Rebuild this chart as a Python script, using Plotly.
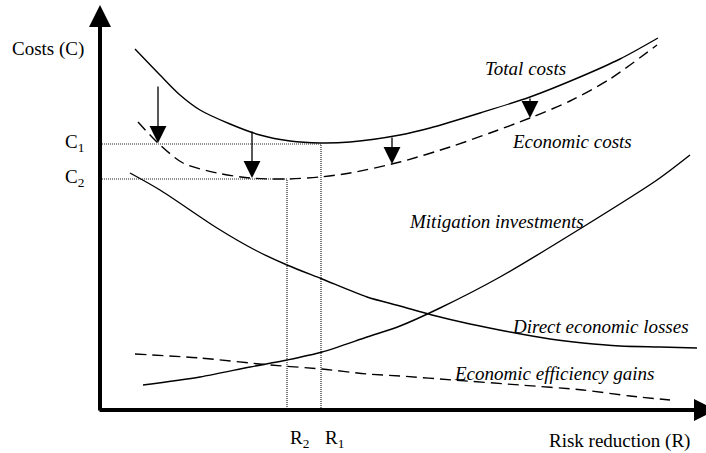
import plotly.graph_objects as go

# ---- data (conceptual units: risk reduction R, costs C) ----
total_x = [35, 60, 80, 100, 130, 160, 190, 220, 250, 300, 330, 380, 430, 480, 520, 558]
total_y = [361, 335, 315, 300, 286, 275, 269, 267, 268, 275, 282, 297, 313, 333, 351, 372]

econ_x = [38, 58, 83, 117, 150, 187, 220, 250, 300, 350, 390, 430, 470, 510, 557]
econ_y = [288, 267, 247, 237, 232, 231, 233, 237, 248, 263, 277, 292, 309, 331, 365]

mitig_x = [43, 100, 150, 187, 222, 267, 300, 340, 400, 483, 557, 590]
mitig_y = [25, 33, 43, 50, 58, 73, 84, 102, 133, 183, 230, 255]

direct_x = [30, 60, 117, 155, 187, 222, 267, 300, 332, 370, 410, 450, 483, 520, 560, 597]
direct_y = [237, 220, 182, 160, 145, 131, 113, 104, 95, 86, 78, 71, 67, 64, 63, 62]

gains_x = [35, 100, 170, 222, 267, 300, 353, 420, 483, 530, 570]
gains_y = [56, 52, 45, 41, 36, 34, 30, 25, 20, 14, 10]

# optimum points
R1, C1 = 221, 266
R2, C2 = 187, 231

# downward shift arrows (from total costs to economic costs)
arrow_x = [58, 152, 292, 430]
arrow_from = [325, 280, 274, 313]
arrow_to = [267, 232, 246, 292]

FONT = "Liberation Serif"
SIZE = 19

fig = go.Figure()

solid = dict(color="black", width=1.4, shape="spline", smoothing=0.8)
dashed = dict(color="black", width=1.4, shape="spline", smoothing=0.8, dash="11px,6px")
dotted = dict(color="#222", width=1.2, dash="1px,1px")

fig.add_trace(go.Scatter(x=total_x, y=total_y, mode="lines", line=solid))
fig.add_trace(go.Scatter(x=econ_x, y=econ_y, mode="lines", line=dashed))
fig.add_trace(go.Scatter(x=mitig_x, y=mitig_y, mode="lines", line=solid))
fig.add_trace(go.Scatter(x=direct_x, y=direct_y, mode="lines", line=solid))
fig.add_trace(go.Scatter(x=gains_x, y=gains_y, mode="lines", line=dashed))

# dotted guide lines
fig.add_trace(go.Scatter(x=[0, R1, R1], y=[C1, C1, 0], mode="lines", line=dotted))
fig.add_trace(go.Scatter(x=[0, R2, R2], y=[C2, C2, 0], mode="lines", line=dotted))

ann = []
# axes with arrow heads
ann.append(dict(x=0, y=405, ax=0, ay=-2, xref="x", yref="y", axref="x", ayref="y",
                text="", showarrow=True, arrowhead=2, arrowwidth=4, arrowsize=1.1,
                arrowcolor="black", font=dict(size=1)))
ann.append(dict(x=616, y=0, ax=-2, ay=0, xref="x", yref="y", axref="x", ayref="y",
                text="", showarrow=True, arrowhead=2, arrowwidth=4, arrowsize=1.1,
                arrowcolor="black", font=dict(size=1)))

for xa, yf, yt in zip(arrow_x, arrow_from, arrow_to):
    ann.append(dict(x=xa, y=yt, ax=xa, ay=yf, xref="x", yref="y", axref="x", ayref="y",
                    text="", showarrow=True, arrowhead=2, arrowwidth=1.3, arrowsize=2.6,
                    arrowcolor="black", font=dict(size=1)))

def label(text, x, y, xanchor="left", italic=False):
    ann.append(dict(x=x, y=y, xref="x", yref="y", text=text, showarrow=False,
                    xanchor=xanchor, yanchor="middle",
                    font=dict(family=FONT, size=SIZE, color="black",
                              style="italic" if italic else "normal")))

label("Costs (C)", -14, 361, xanchor="right")
label("C<sub>1</sub>", -14, C1 + 1, xanchor="right")
label("C<sub>2</sub>", -14, C2 + 1, xanchor="right")
label("R<sub>2</sub>", R2 + 1, -29)
label("R<sub>1</sub>", R1 + 2, -29)
label("Risk reduction (R)", 447, -31)
label("Total costs", 383, 342, italic=True)
label("Economic costs", 410, 269, italic=True)
label("Mitigation investments", 307, 189, italic=True)
label("Direct economic losses", 410, 84, italic=True)
label("Economic efficiency gains", 352, 37, italic=True)

fig.update_layout(
    width=706, height=453,
    margin=dict(l=0, r=0, t=0, b=0),
    paper_bgcolor="white", plot_bgcolor="white",
    showlegend=False,
    xaxis=dict(range=[-100, 606], visible=False, fixedrange=True),
    yaxis=dict(range=[-43, 410], visible=False, fixedrange=True),
    annotations=ann,
)

fig.write_html("out.html", config={"displayModeBar": False},
               post_script="document.body.style.margin='0px';document.body.style.overflow='hidden';")
